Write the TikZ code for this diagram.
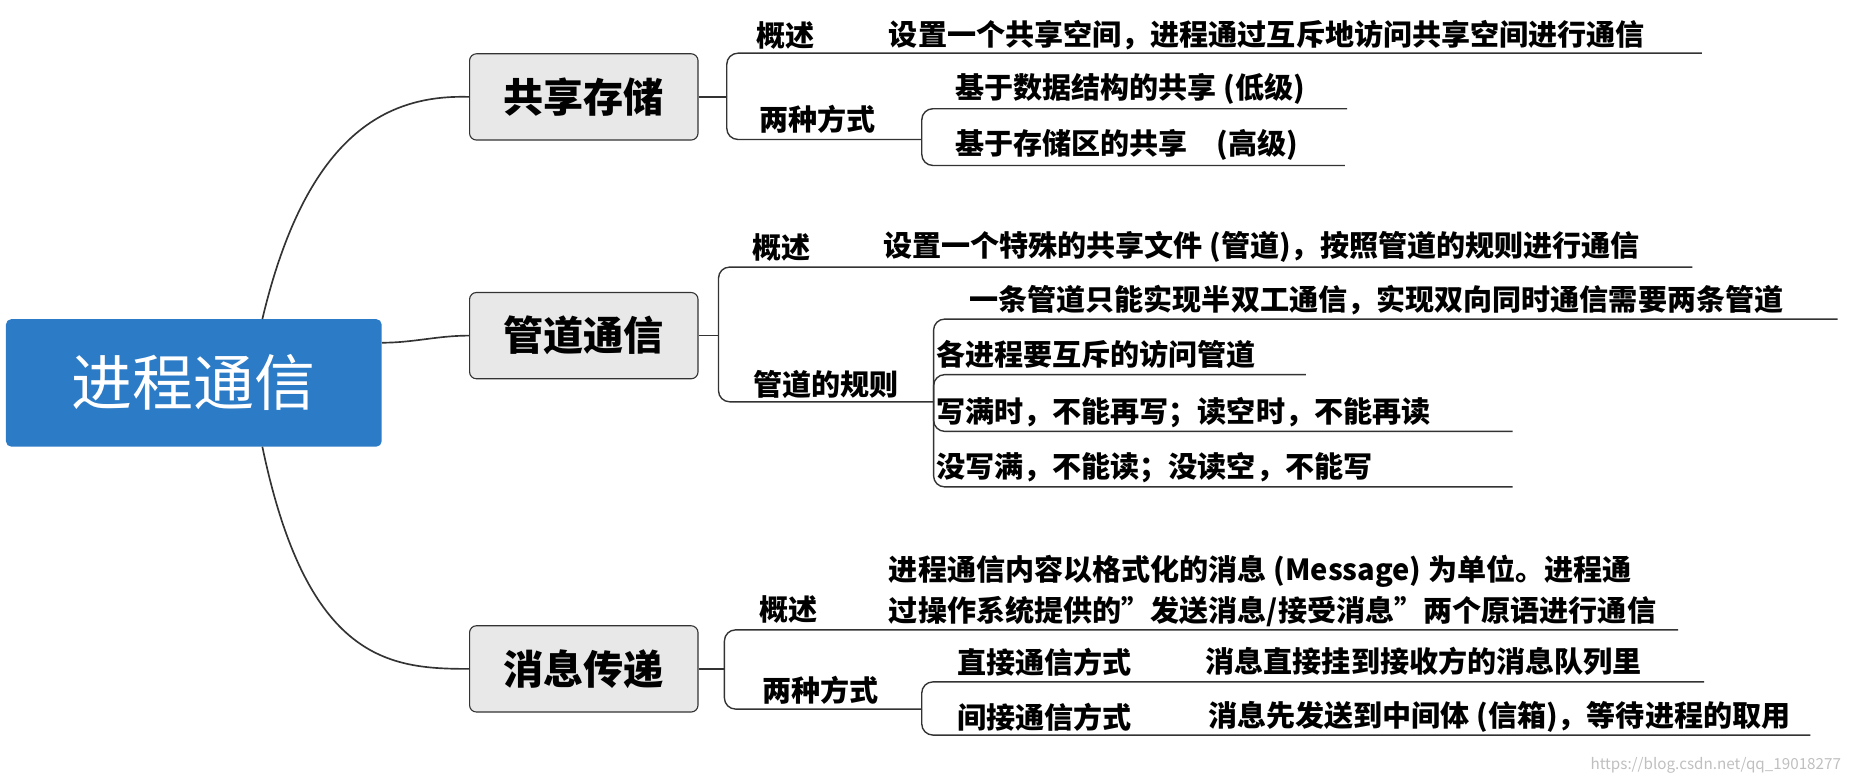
\documentclass[tikz,border=0pt]{standalone}
\usepackage{fontspec}
\setmainfont{Noto Sans CJK SC}
\usepackage{tikz}
\definecolor{rootblue}{HTML}{2C7BC6}
\definecolor{boxgray}{HTML}{E8E8E8}
\definecolor{linegray}{HTML}{333333}
\tikzset{
  root/.style={fill=rootblue,rounded corners=4pt,minimum width=9.54cm,minimum height=3.24cm,
    text=white,font=\fontsize{44}{48}\selectfont},
  branch/.style={fill=boxgray,draw=linegray,line width=0.8pt,rounded corners=5pt,
    minimum width=5.8cm,minimum height=2.19cm,font=\bfseries\fontsize{29}{32}\selectfont},
  item/.style={anchor=west,inner sep=0pt,font=\bfseries\fontsize{21}{30}\selectfont},
  head/.style={item,anchor=center},
  conn/.style={draw=linegray,line width=1.2pt},
  leaf/.style={draw=linegray,line width=1pt,rounded corners=8pt}
}
\begin{document}
\begin{tikzpicture}[x=0.03cm,y=-0.03cm]
\useasboundingbox (0,0) rectangle (1568,663);

% root and branches
\node[root] (proc) at (164,324) {进程通信};
\node[branch] (shm) at (494,82) {共享存储};
\node[branch] (pipe) at (494,284) {管道通信};
\node[branch] (msg) at (494,566) {消息传递};

\draw[conn] (222,270) .. controls (260,110) and (330,80) .. (shm.west);
\draw[conn] (proc.east) ++(0,-34) .. controls (350,290) and (370,284) .. (pipe.west);
\draw[conn] (222,378) .. controls (260,560) and (330,566) .. (msg.west);

% shared storage
\coordinate (shmB) at (615,82);
\draw[leaf] (shm.east) -- (shmB);
\draw[leaf] (shmB) |- (1440,45);
\draw[leaf] (shmB) |- (780,118);
\node[head] (shmA) at (665,30) {概述};
\node[item] (shmAt) at (752,30) {设置一个共享空间，进程通过互斥地访问共享空间进行通信};
\node[head] (shmW) at (692,101) {两种方式};
\coordinate (shmWB) at (780,118);
\draw[leaf] (shmWB) |- (1140,92);
\draw[leaf] (shmWB) |- (1138,140);
\node[item] (shmW1) at (808,75) {基于数据结构的共享 (低级)};
\node[item] (shmW2) at (808,123) {基于存储区的共享\quad (高级)};

% pipe
\coordinate (pipeB) at (608,284);
\draw[leaf] (pipe.east) -- (pipeB);
\draw[leaf] (pipeB) |- (1432,226);
\draw[leaf] (pipeB) |- (790,340);
\node[head] (pipeA) at (661,209) {概述};
\node[item] (pipeAt) at (747,209) {设置一个特殊的共享文件 (管道)，按照管道的规则进行通信};
\node[head] (pipeR) at (699,325) {管道的规则};
\coordinate (pipeRB) at (790,340);
\draw[leaf] (pipeRB) |- (1555,270);
\draw[leaf] (pipeRB) |- (1105,317);
\draw[leaf] (pipeRB) |- (1280,365);
\draw[leaf] (pipeRB) |- (1280,412);
\node[item] (pipeR1) at (820,254) {一条管道只能实现半双工通信，实现双向同时通信需要两条管道};
\node[item] (pipeR2) at (792,300) {各进程要互斥的访问管道};
\node[item] (pipeR3) at (792,349) {写满时，不能再写；读空时，不能再读};
\node[item] (pipeR4) at (792,396) {没写满，不能读；没读空，不能写};

% message passing
\coordinate (msgB) at (613,566);
\draw[leaf] (msg.east) -- (msgB);
\draw[leaf] (msgB) |- (1420,533);
\draw[leaf] (msgB) |- (780,600);
\node[head] (msgA) at (667,516) {概述};
\node[item,align=left] (msgAt) at (752,500) {进程通信内容以格式化的消息 (Message) 为单位。进程通\\过操作系统提供的"发送消息/接受消息"两个原语进行通信};
\node[head] (msgW) at (694,584) {两种方式};
\coordinate (msgWB) at (780,600);
\draw[leaf] (msgWB) |- (1442,577);
\draw[leaf] (msgWB) |- (1532,622);
\node[item] (msgW1) at (810,560) {直接通信方式};
\node[item] (msgW1t) at (1020,560) {消息直接挂到接收方的消息队列里};
\node[item] (msgW2) at (810,607) {间接通信方式};
\node[item] (msgW2t) at (1022,607) {消息先发送到中间体 (信箱)，等待进程的取用};

\node[anchor=east,text=black!25,font=\fontsize{11}{12}\selectfont] (mark) at (1562,648) {https://blog.csdn.net/qq\_19018277};
\end{tikzpicture}
\end{document}
